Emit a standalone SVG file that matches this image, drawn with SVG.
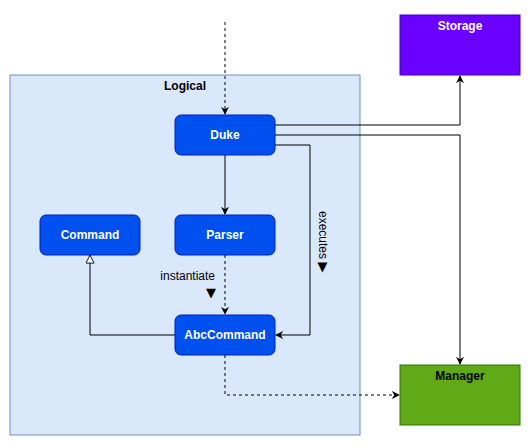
<svg xmlns="http://www.w3.org/2000/svg" width="531" height="446" viewBox="0 0 531 446">
  <style>
    .node rect { fill: #0050ef; stroke: #001dbc; stroke-width: 1; }
    .node text { fill: #ffffff; font-family: "Liberation Sans", Arial, sans-serif; font-size: 12px; font-weight: bold; text-anchor: middle; }
    .edge { fill: none; stroke: #000000; stroke-width: 1; }
    .dash { stroke-dasharray: 3 3; }
    .label { font-family: "Liberation Sans", Arial, sans-serif; font-size: 12px; fill: #000000; }
    .tri { font-family: "DejaVu Sans", sans-serif; font-size: 13px; }
    .title { font-family: "Liberation Sans", Arial, sans-serif; font-size: 12px; font-weight: bold; text-anchor: middle; }
  </style>
  <defs>
    <marker id="arrow" viewBox="0 0 10 10" refX="9" refY="5" markerWidth="8" markerHeight="8" markerUnits="userSpaceOnUse" orient="auto">
      <path d="M0,0 L10,5 L0,10 L3,5 Z" fill="#000000"/>
    </marker>
    <marker id="hollow" viewBox="0 0 10 10" refX="9.5" refY="5" markerWidth="9" markerHeight="9" markerUnits="userSpaceOnUse" orient="auto">
      <path d="M0.5,0.5 L9.5,5 L0.5,9.5 Z" fill="#ffffff" stroke="#000000" stroke-width="1"/>
    </marker>
  </defs>

  <rect width="531" height="446" fill="#ffffff"/>

  <!-- Logical container -->
  <g id="logical">
    <rect x="10" y="75" width="350" height="360" fill="#dae8fc" stroke="#6c8ebf"/>
    <text class="title" x="185" y="90" fill="#000000">Logical</text>
  </g>

  <!-- External components -->
  <g id="storage">
    <rect x="400" y="15" width="120" height="60" fill="#6a00ff" stroke="#3700cc"/>
    <text class="title" x="460" y="30" fill="#ffffff">Storage</text>
  </g>
  <g id="manager">
    <rect x="400" y="365" width="120" height="60" fill="#60a917" stroke="#2d7600"/>
    <text class="title" x="460" y="380" fill="#000000">Manager</text>
  </g>

  <!-- Inner classes -->
  <g id="duke" class="node">
    <rect x="175" y="115" width="100" height="40" rx="6"/>
    <text x="225" y="139">Duke</text>
  </g>
  <g id="command" class="node">
    <rect x="40" y="215" width="100" height="40" rx="6"/>
    <text x="90" y="239">Command</text>
  </g>
  <g id="parser" class="node">
    <rect x="175" y="215" width="100" height="40" rx="6"/>
    <text x="225" y="239">Parser</text>
  </g>
  <g id="abccommand" class="node">
    <rect x="175" y="315" width="100" height="40" rx="6"/>
    <text x="225" y="339">AbcCommand</text>
  </g>

  <!-- Connectors -->
  <g id="connectors">
    <path class="edge dash" d="M225,22 L225,114" marker-end="url(#arrow)"/>
    <path class="edge" d="M275,125 L460,125 L460,76" marker-end="url(#arrow)"/>
    <path class="edge" d="M275,135 L460,135 L460,364" marker-end="url(#arrow)"/>
    <path class="edge" d="M275,145 L310,145 L310,335 L276,335" marker-end="url(#arrow)"/>
    <path class="edge" d="M225,155 L225,214" marker-end="url(#arrow)"/>
    <path class="edge dash" d="M225,255 L225,314" marker-end="url(#arrow)"/>
    <path class="edge" d="M175,335 L90,335 L90,255" marker-end="url(#hollow)"/>
    <path class="edge dash" d="M225,355 L225,395 L399,395" marker-end="url(#arrow)"/>

    <text class="label" x="215" y="280" text-anchor="end">instantiate</text>
    <text class="label tri" x="216" y="297" text-anchor="end">▼</text>
    <text class="label" transform="translate(319,211) rotate(90)">executes <tspan class="tri">▶</tspan></text>
  </g>
</svg>
